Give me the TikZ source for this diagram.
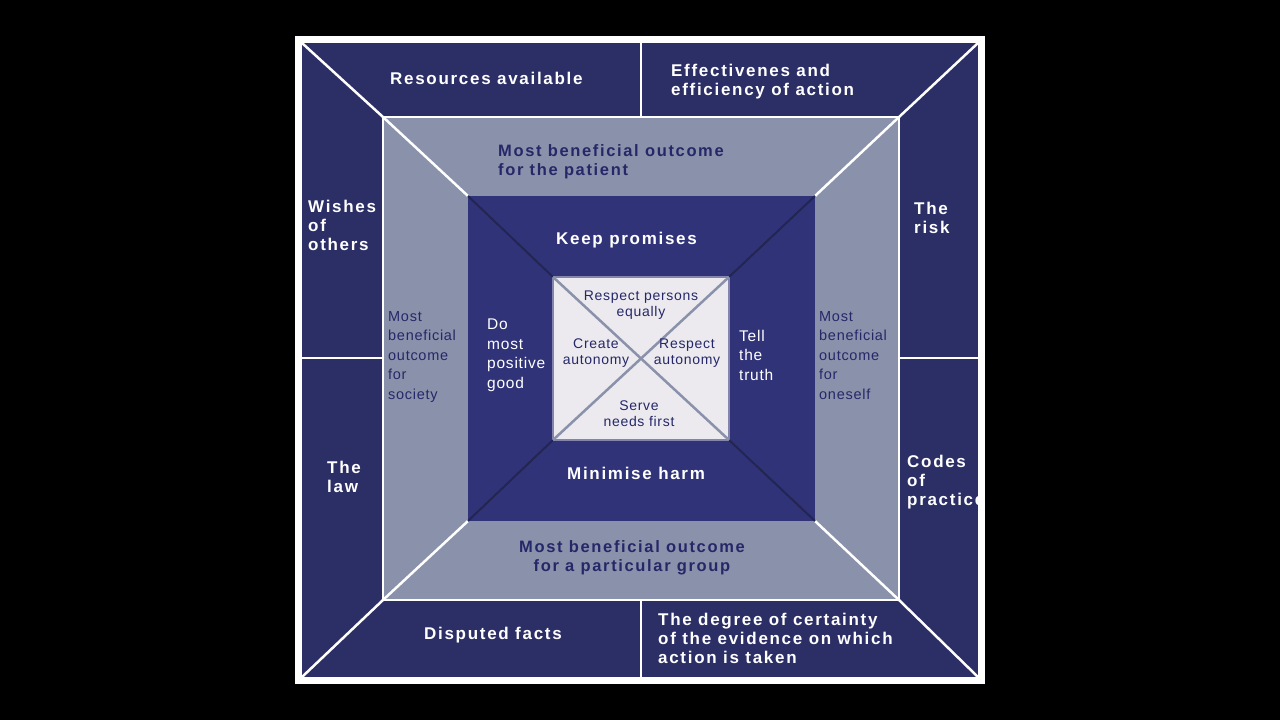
\documentclass[tikz,border=0pt]{standalone}
\usepackage{fontspec}
\setmainfont{Liberation Sans}
\newfontfamily\wideB{Liberation Sans}[LetterSpace=10]
\newfontfamily\wideR{Liberation Sans}[LetterSpace=5]
\begin{document}
\begin{tikzpicture}[x=1pt,y=-1pt,
  lw/.style={white,line width=2.5pt},
  ot/.style={text=white,font=\wideB\bfseries\fontsize{17}{19}\selectfont,align=left,inner sep=0pt,anchor=north west},
  mt/.style={text=navyT,font=\wideB\bfseries\fontsize{16.5}{19}\selectfont,align=left,inner sep=0pt,anchor=north west},
  st/.style={text=navyT,font=\wideR\fontsize{14.5}{19.5}\selectfont,align=left,inner sep=0pt,anchor=north west},
  it/.style={text=white,font=\wideR\fontsize{15.5}{19.5}\selectfont,align=left,inner sep=0pt,anchor=north west},
  ct/.style={text=navyT,font=\wideR\fontsize{14}{16}\selectfont,align=center,inner sep=0pt}]
\definecolor{navyO}{HTML}{2C2E66}
\definecolor{grayM}{HTML}{8A91AB}
\definecolor{navyI}{HTML}{313379}
\definecolor{paleC}{HTML}{ECEAEE}
\definecolor{navyT}{HTML}{252868}
\useasboundingbox (0,0) rectangle (1280,720);
\fill[black] (0,0) rectangle (1280,720);
\fill[white] (295,36) rectangle (985,684);
\fill[navyO] (302,43) rectangle (978,677);
\fill[grayM] (383,117) rectangle (899,600);
\draw[lw] (383,117) rectangle (899,600);
\fill[navyI] (468,196) rectangle (815,521);
\fill[paleC] (553,277) rectangle (729,440);
\draw[navyI!60!white,line width=2.5pt] (553,277) rectangle (729,440);
% diagonals
\draw[lw] (302,43)--(383,117) (978,43)--(899,117) (302,677)--(383,600) (978,677)--(899,600);
\draw[lw] (383,117)--(468,196) (899,117)--(815,196) (383,600)--(468,521) (899,600)--(815,521);
\draw[navyO!80!black,line width=2pt] (468,196)--(553,277) (815,196)--(729,277) (468,521)--(553,440) (815,521)--(729,440);
\draw[grayM,line width=2.5pt] (553,277)--(729,440) (729,277)--(553,440);
% dividers
\draw[lw] (641,43)--(641,117) (641,600)--(641,677) (302,358)--(383,358) (899,358)--(978,358);
% outer texts
\node[ot] (o1) at (390,72) {Resources available};
\node[ot] (o2) at (671,64) {Effectivenes and\\efficiency of action};
\node[ot] (o3) at (308,200) {Wishes\\of\\others};
\node[ot] (o4) at (914,202) {The\\risk};
\node[ot] (o5) at (327,461) {The\\law};
\node[ot] (o6) at (907,455) {Codes\\of\\practice};
\node[ot] (o7) at (424,627) {Disputed facts};
\node[ot] (o8) at (658,613) {The degree of certainty\\of the evidence on which\\action is taken};
% middle texts
\node[mt] (m1) at (498,144) {Most beneficial outcome\\for the patient};
\node[mt,align=center,anchor=north] (m2) at (632,540) {Most beneficial outcome\\for a particular group};
\node[st] (m3) at (388,311) {Most\\beneficial\\outcome\\for\\society};
\node[st] (m4) at (819,311) {Most\\beneficial\\outcome\\for\\oneself};
% inner texts
\node[it,font=\wideB\bfseries\fontsize{17}{17}\selectfont] (i1) at (556,232) {Keep promises};
\node[it,font=\wideB\bfseries\fontsize{17}{17}\selectfont] (i2) at (567,467) {Minimise harm};
\node[it] (i3) at (487,319) {Do\\most\\positive\\good};
\node[it] (i4) at (739,330) {Tell\\the\\truth};
% centre texts
\node[ct] (c1) at (641,305) {Respect persons\\equally};
\node[ct] (c2) at (596,353) {Create\\autonomy};
\node[ct] (c3) at (687,353) {Respect\\autonomy};
\node[ct] (c4) at (639,414) {Serve\\needs first};
\end{tikzpicture}
\end{document}
